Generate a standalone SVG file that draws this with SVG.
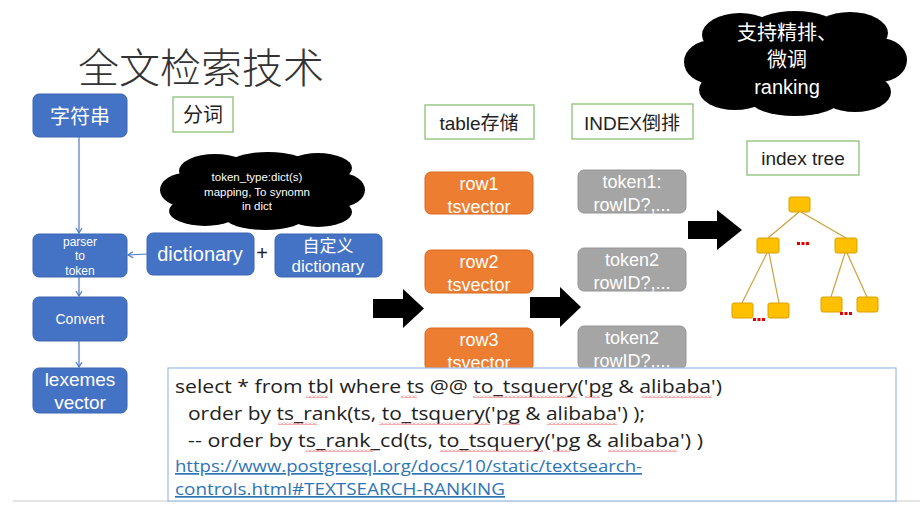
<svg xmlns="http://www.w3.org/2000/svg" width="920" height="512" viewBox="0 0 920 512">
<style>
.blue{fill:#4472C4;stroke:#3A65B0;stroke-width:1}
.orange{fill:#ED7D31;stroke:#D8691F;stroke-width:1}
.gray{fill:#A5A5A5;stroke:#959595;stroke-width:1}
.green{fill:#fff;stroke:#8CC078;stroke-width:1.3}
.tn{fill:#FFC000;stroke:#D9A200;stroke-width:1}
.w{fill:#fff;font-family:"Liberation Sans","Noto Sans CJK SC",sans-serif;text-anchor:middle}
.k{fill:#222;font-family:"Liberation Sans","Noto Sans CJK SC",sans-serif;text-anchor:middle}
.code{fill:#222;font-family:"Open Sans","Liberation Sans",sans-serif;font-size:19px}
.link{fill:#2E75B6;font-family:"Open Sans","Liberation Sans",sans-serif;font-size:17px;text-decoration:underline}
.thin{stroke:#4A78C8;stroke-width:1.2;fill:none;marker-end:url(#ah)}
.edge{stroke:#C9A23A;stroke-width:1.2}
.dots{fill:#E00000}
.sq{fill:url(#zig)}
</style>
<defs>
<marker id="ah" markerWidth="8" markerHeight="8" refX="6" refY="4" orient="auto" markerUnits="userSpaceOnUse">
<path d="M1,1 L6,4 L1,7" fill="none" stroke="#4A78C8" stroke-width="1.2"/>
</marker>
<pattern id="zig" width="4" height="3" patternUnits="userSpaceOnUse">
<path d="M0,2.5 L2,0.5 L4,2.5" fill="none" stroke="#E03030" stroke-width="0.8"/>
</pattern>
</defs>
<rect width="920" height="512" fill="#fff"/>

<text x="78" y="83" font-family="Noto Sans CJK SC,sans-serif" font-weight="300" font-size="41" fill="#333">全文检索技术</text>

<g id="cloud1">
<g fill="#000">
<ellipse cx="262" cy="191" rx="88" ry="30"/>
<ellipse cx="186" cy="190" rx="26" ry="17"/>
<ellipse cx="215" cy="171" rx="36" ry="17"/>
<ellipse cx="268" cy="165" rx="40" ry="13"/>
<ellipse cx="318" cy="168" rx="34" ry="15"/>
<ellipse cx="340" cy="190" rx="25" ry="17"/>
<ellipse cx="318" cy="212" rx="34" ry="15"/>
<ellipse cx="265" cy="217" rx="40" ry="13"/>
<ellipse cx="205" cy="211" rx="36" ry="15"/>
</g>
<text class="w" font-size="11.5" x="257" y="181">token_type:dict(s)</text>
<text class="w" font-size="11.5" x="257" y="196">mapping, To synomn</text>
<text class="w" font-size="11.5" x="257" y="210">in dict</text>
</g>

<g id="cloud2">
<g fill="#000">
<ellipse cx="795" cy="64" rx="95" ry="40"/>
<ellipse cx="712" cy="62" rx="28" ry="22"/>
<ellipse cx="740" cy="35" rx="38" ry="22"/>
<ellipse cx="795" cy="27" rx="42" ry="16"/>
<ellipse cx="850" cy="33" rx="38" ry="21"/>
<ellipse cx="880" cy="60" rx="27" ry="22"/>
<ellipse cx="855" cy="92" rx="36" ry="20"/>
<ellipse cx="795" cy="100" rx="45" ry="16"/>
<ellipse cx="735" cy="90" rx="36" ry="20"/>
</g>
<text class="w" font-size="20" x="787" y="40">支持精排、</text>
<text class="w" font-size="20" x="787" y="67">微调</text>
<text class="w" font-size="20" x="787" y="94">ranking</text>
</g>

<g id="n-str"><rect class="blue" x="33" y="94" width="94" height="43" rx="6"/><text class="w" font-size="20" x="80" y="124">字符串</text></g>
<g id="n-fenci"><rect class="green" x="173" y="97" width="60" height="35"/><text class="k" font-size="20" x="203" y="122">分词</text></g>
<g id="n-parser"><rect class="blue" x="33" y="234" width="94" height="43" rx="6"/>
<text class="w" font-size="12" x="80" y="246">parser</text><text class="w" font-size="12" x="80" y="260">to</text><text class="w" font-size="12" x="80" y="275">token</text></g>
<g id="n-dict"><rect class="blue" x="147" y="233" width="107" height="42" rx="6"/><text class="w" font-size="20" x="200" y="261">dictionary</text></g>
<text class="k" font-size="20" x="262" y="260">+</text>
<g id="n-udict"><rect class="blue" x="275" y="234" width="107" height="43" rx="6"/>
<text class="w" font-size="17" x="328" y="252">自定义</text><text class="w" font-size="17" x="328" y="272">dictionary</text></g>
<g id="n-convert"><rect class="blue" x="33" y="297" width="94" height="44" rx="6"/><text class="w" font-size="14" x="80" y="324">Convert</text></g>
<g id="n-lex"><rect class="blue" x="33" y="368" width="94" height="45" rx="6"/>
<text class="w" font-size="19" x="80" y="386">lexemes</text><text class="w" font-size="19" x="80" y="409">vector</text></g>

<g id="n-table"><rect class="green" x="425" y="105" width="109" height="34"/><text class="k" font-size="19" x="479" y="130">table存储</text></g>
<g id="n-index"><rect class="green" x="572" y="104" width="121" height="35"/><text class="k" font-size="19" x="632" y="130">INDEX倒排</text></g>
<g id="n-tree"><rect class="green" x="747" y="141" width="112" height="34"/><text class="k" font-size="19" x="803" y="165">index tree</text></g>

<g id="n-row1"><rect class="orange" x="425" y="172" width="108" height="42" rx="6"/><text class="w" font-size="18" x="479" y="190">row1</text><text class="w" font-size="18" x="479" y="213">tsvector</text></g>
<g id="n-row2"><rect class="orange" x="425" y="250" width="108" height="43" rx="6"/><text class="w" font-size="18" x="479" y="268">row2</text><text class="w" font-size="18" x="479" y="291">tsvector</text></g>
<g id="n-row3"><rect class="orange" x="425" y="328" width="108" height="43" rx="6"/><text class="w" font-size="18" x="479" y="346">row3</text><text class="w" font-size="18" x="479" y="369">tsvector</text></g>

<g id="n-tok1"><rect class="gray" x="578" y="170" width="108" height="43" rx="6"/><text class="w" font-size="18" x="632" y="188">token1:</text><text class="w" font-size="18" x="632" y="211">rowID?,...</text></g>
<g id="n-tok2"><rect class="gray" x="578" y="248" width="108" height="43" rx="6"/><text class="w" font-size="18" x="632" y="266">token2</text><text class="w" font-size="18" x="632" y="289">rowID?,...</text></g>
<g id="n-tok3"><rect class="gray" x="578" y="326" width="108" height="43" rx="6"/><text class="w" font-size="18" x="632" y="344">token2</text><text class="w" font-size="18" x="632" y="367">rowID?,...</text></g>

<g id="connectors">
<line class="thin" x1="79" y1="137" x2="79" y2="233"/>
<line class="thin" x1="147" y1="254" x2="128" y2="255"/>
<line class="thin" x1="79" y1="277" x2="79" y2="296"/>
<line class="thin" x1="79" y1="341" x2="79" y2="367"/>
<path d="M373,299 L403,299 L403,289 L424,308.5 L403,328 L403,318 L373,318 Z" fill="#000"/>
<path d="M530,297 L560,297 L560,287 L581,307 L560,327 L560,318 L530,318 Z" fill="#000"/>
<path d="M688,221 L717,221 L717,210 L742,230 L717,250 L717,239 L688,239 Z" fill="#000"/>
<line class="edge" x1="799" y1="212" x2="768" y2="238"/>
<line class="edge" x1="801" y1="212" x2="846" y2="238"/>
<line class="edge" x1="767" y1="253" x2="742" y2="303"/>
<line class="edge" x1="769" y1="253" x2="779" y2="303"/>
<line class="edge" x1="845" y1="253" x2="831" y2="297"/>
<line class="edge" x1="847" y1="253" x2="867" y2="297"/>
</g>

<g id="tree">
<rect class="tn" x="789" y="197" width="21" height="15" rx="2"/>
<rect class="tn" x="757" y="238" width="22" height="15" rx="2"/>
<rect class="tn" x="835" y="238" width="22" height="15" rx="2"/>
<rect class="tn" x="732" y="303" width="21" height="15" rx="2"/>
<rect class="tn" x="768" y="303" width="21" height="15" rx="2"/>
<rect class="tn" x="821" y="297" width="21" height="15" rx="2"/>
<rect class="tn" x="857" y="297" width="21" height="15" rx="2"/>
<g class="dots">
<rect x="797" y="242" width="3" height="3"/><rect x="801.5" y="242" width="3" height="3"/><rect x="806" y="242" width="3" height="3"/>
<rect x="753" y="318" width="3" height="3"/><rect x="757.5" y="318" width="3" height="3"/><rect x="762" y="318" width="3" height="3"/>
<rect x="840" y="312" width="3" height="3"/><rect x="844.5" y="312" width="3" height="3"/><rect x="849" y="312" width="3" height="3"/>
</g>
</g>

<line x1="13" y1="501" x2="920" y2="501" stroke="#C8C8C8" stroke-width="1"/>
<g id="codebox">
<rect x="168" y="368" width="728" height="133" fill="#fff" stroke="#9DBDE3" stroke-width="1.2"/>
<text class="code" x="175" y="393" textLength="547" lengthAdjust="spacingAndGlyphs">select * from tbl where ts @@ to_tsquery('pg &amp; alibaba')</text>
<text class="code" x="188" y="420" textLength="457" lengthAdjust="spacingAndGlyphs">order by ts_rank(ts, to_tsquery('pg &amp; alibaba') );</text>
<text class="code" x="188" y="447" textLength="515" lengthAdjust="spacingAndGlyphs">-- order by ts_rank_cd(ts, to_tsquery('pg &amp; alibaba') )</text>
<text class="link" x="175" y="472" textLength="467" lengthAdjust="spacingAndGlyphs">https://www.postgresql.org/docs/10/static/textsearch-</text>
<text class="link" x="175" y="495" textLength="330" lengthAdjust="spacingAndGlyphs">controls.html#TEXTSEARCH-RANKING</text>
<g class="sq">
<rect x="306" y="395" width="22" height="3"/><rect x="401" y="395" width="16" height="3"/><rect x="473" y="395" width="104" height="3"/><rect x="585" y="395" width="15" height="3"/><rect x="642" y="395" width="70" height="3"/>
<rect x="278" y="422" width="39" height="3"/><rect x="379" y="422" width="111" height="3"/><rect x="503" y="422" width="17" height="3"/><rect x="547" y="422" width="70" height="3"/>
<rect x="306" y="449" width="67" height="3"/><rect x="440" y="449" width="103" height="3"/><rect x="553" y="449" width="17" height="3"/><rect x="608" y="449" width="69" height="3"/>
</g>
</g>
</svg>
